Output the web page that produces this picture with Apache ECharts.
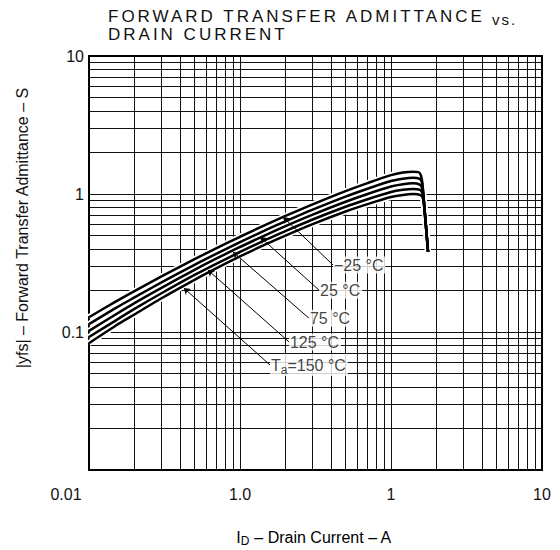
<!DOCTYPE html>
<html><head><meta charset="utf-8">
<script src="https://cdn.jsdelivr.net/npm/echarts@6/dist/echarts.min.js"></script>
<style>html,body{margin:0;padding:0;background:#fff}#c{width:560px;height:550px}</style>
</head><body><div id="c"></div>
<script>
// ---- data ----
const xTickValues = [0.01, 0.1, 1, 10];
const xTickLabels = ['0.01', '1.0', '1', '10'];
const yTickValues = [0.01, 0.1, 1, 10];
const yTickLabels = ['', '0.1', '1', '10'];
const xGridLines = [0.02,0.03,0.04,0.05,0.06,0.07,0.08,0.09,0.1,0.2,0.3,0.4,0.5,0.6,0.7,0.8,0.9,1,2,3,4,5,6,7,8,9];
const yGridLines = [0.02,0.03,0.04,0.05,0.06,0.07,0.08,0.09,0.1,0.2,0.3,0.4,0.5,0.6,0.7,0.8,0.9,1,2,3,4,5,6,7,8,9];

const currentA = [0.01, 0.015, 0.02, 0.03, 0.05, 0.07, 0.1, 0.15, 0.2, 0.3, 0.5, 0.7, 1.0, 1.2, 1.4];
const yfsM25 = [0.128, 0.166, 0.198, 0.252, 0.337, 0.406, 0.490, 0.602, 0.693, 0.838, 1.050, 1.200, 1.370, 1.430, 1.450];
const yfs25  = [0.114, 0.149, 0.178, 0.228, 0.307, 0.370, 0.448, 0.551, 0.634, 0.767, 0.958, 1.092, 1.241, 1.290, 1.311];
const yfs75  = [0.102, 0.134, 0.162, 0.208, 0.282, 0.341, 0.413, 0.508, 0.585, 0.706, 0.879, 1.001, 1.133, 1.177, 1.195];
const yfs125 = [0.092, 0.121, 0.147, 0.190, 0.259, 0.313, 0.380, 0.469, 0.539, 0.651, 0.808, 0.917, 1.034, 1.073, 1.089];
const yfs150 = [0.083, 0.111, 0.134, 0.175, 0.239, 0.290, 0.353, 0.435, 0.500, 0.603, 0.747, 0.845, 0.950, 0.985, 1.000];
// cut-off tails
const tailM25X = [1.52, 1.58, 1.62, 1.76], tailM25Y = [1.44, 1.36, 1.15, 0.38];
const tail25X  = [1.54, 1.60, 1.63, 1.76], tail25Y  = [1.29, 1.22, 1.05, 0.38];
const tail75X  = [1.55, 1.61, 1.64, 1.76], tail75Y  = [1.17, 1.10, 0.95, 0.38];
const tail125X = [1.56, 1.62, 1.65, 1.76], tail125Y = [1.07, 1.00, 0.88, 0.38];
const tail150X = [1.57, 1.63, 1.66, 1.76], tail150Y = [0.98, 0.92, 0.80, 0.38];

const curveLabels = ['\u221225 \u00b0C', '25 \u00b0C', '75 \u00b0C', '125 \u00b0C', 'Ta=150 \u00b0C'];
const leaderFromX = [0.193, 0.136, 0.090, 0.0614, 0.0425];
const leaderFromY = [0.681, 0.488, 0.380, 0.281, 0.208];
const labelAtX = [0.413, 0.334, 0.286, 0.211, 0.158];
const labelAtY = [0.306, 0.201, 0.126, 0.0848, 0.0577];

// ---- build ----
const FONT = "'Liberation Sans', Arial, sans-serif";
function pairs(xs, ys, tx, ty) {
  const p = xs.map((x, i) => [x, ys[i]]);
  if (tx) tx.forEach((x, i) => p.push([x, ty[i]]));
  return p;
}
const curves = [
  pairs(currentA, yfsM25, tailM25X, tailM25Y),
  pairs(currentA, yfs25, tail25X, tail25Y),
  pairs(currentA, yfs75, tail75X, tail75Y),
  pairs(currentA, yfs125, tail125X, tail125Y),
  pairs(currentA, yfs150, tail150X, tail150Y)
];
const gridLineData = [];
xGridLines.forEach(v => gridLineData.push({coords: [[v, 0.01], [v, 10]]}));
yGridLines.forEach(v => gridLineData.push({coords: [[0.01, v], [10, v]]}));

const series = [{
  type: 'lines', coordinateSystem: 'cartesian2d', silent: true, z: 1,
  lineStyle: {color: '#111', width: 1, opacity: 1}, data: gridLineData
}];
curves.forEach((d) => {
  series.push({type: 'line', data: d, showSymbol: false, smooth: 0.25, silent: true, z: 2,
    lineStyle: {color: '#fff', width: 6}});
});
curves.forEach((d, i) => {
  series.push({type: 'line', name: curveLabels[i], data: d, showSymbol: false, smooth: 0.25, silent: true, z: 3,
    lineStyle: {color: '#000', width: 2.5}});
});
series.push({
  type: 'lines', coordinateSystem: 'cartesian2d', silent: true, z: 4,
  symbol: ['arrow', 'none'], symbolSize: 6,
  lineStyle: {color: '#000', width: 1, opacity: 1},
  data: leaderFromX.map((x, i) => ({coords: [[x, leaderFromY[i]], [labelAtX[i], labelAtY[i]]]}))
});
series.push({
  type: 'scatter', symbolSize: 0, silent: true, z: 5,
  data: labelAtX.map((x, i) => ({value: [x, labelAtY[i]], name: curveLabels[i]})),
  label: {
    show: true, position: 'right', distance: 0,
    formatter: p => p.name.startsWith('Ta') ? '{n|T}{s|a}{n|' + p.name.slice(2) + '}' : '{n|' + p.name + '}',
    backgroundColor: '#fff', padding: [1, 2, 0, 1],
    rich: {
      n: {fontSize: 16, fontFamily: FONT, color: '#111'},
      s: {fontSize: 12, fontFamily: FONT, color: '#111', padding: [9, 0, 0, 0]}
    }
  }
});

const chart = echarts.init(document.getElementById('c'), null, {renderer: 'svg'});
chart.setOption({
  animation: false,
  backgroundColor: '#fff',
  grid: {left: 89, top: 56, width: 453, height: 414, show: true, borderColor: '#000', borderWidth: 2, backgroundColor: 'transparent'},
  xAxis: {
    type: 'log', logBase: 10, min: 0.01, max: 10,
    axisLine: {show: false}, axisTick: {show: false}, splitLine: {show: false},
    axisLabel: {
      margin: 16, fontSize: 16, fontFamily: FONT, color: '#111',
      formatter: v => {
        const i = xTickValues.findIndex(t => Math.abs(Math.log10(t) - Math.log10(v)) < 1e-6);
        if (i < 0) return '';
        return i === 0 ? '{p|' + xTickLabels[i] + '}' : xTickLabels[i];
      },
      rich: {p: {fontSize: 16, fontFamily: FONT, color: '#111', padding: [0, 46, 0, 0]}}
    }
  },
  yAxis: {
    type: 'log', logBase: 10, min: 0.01, max: 10,
    axisLine: {show: false}, axisTick: {show: false}, splitLine: {show: false},
    axisLabel: {
      margin: 5, fontSize: 16, fontFamily: FONT, color: '#111',
      formatter: v => {
        const i = yTickValues.findIndex(t => Math.abs(Math.log10(t) - Math.log10(v)) < 1e-6);
        return i < 0 ? '' : yTickLabels[i];
      }
    }
  },
  graphic: [
    {type: 'text', left: 108, top: 8, silent: true,
     style: {text: 'FORWARD TRANSFER ADMITTANCE', font: "17px " + FONT, fill: '#111'}},
    {type: 'text', left: 492, top: 12, silent: true,
     style: {text: 'vs.', font: "15px " + FONT, fill: '#111'}},
    {type: 'text', left: 108, top: 26, silent: true,
     style: {text: 'DRAIN CURRENT', font: "17px " + FONT, fill: '#111'}},
    {type: 'text', x: 22, y: 228, rotation: Math.PI / 2, silent: true,
     style: {text: '|yfs| \u2013 Forward Transfer Admittance \u2013 S', font: "16px " + FONT, fill: '#111',
             textAlign: 'center', textVerticalAlign: 'middle'}},
    {type: 'text', x: 314, y: 537, silent: true,
     style: {text: '{a|I}{s|D}{a| \u2013 Drain Current \u2013 A}', textAlign: 'center', textVerticalAlign: 'middle',
             rich: {a: {fontSize: 16, fontFamily: FONT, color: '#111'},
                    s: {fontSize: 12, fontFamily: FONT, color: '#111', padding: [8, 0, 0, 0]}}}}
  ],
  series: series
});
function spaceTitle() {
  document.querySelectorAll('#c text').forEach(t => {
    const s = t.textContent;
    if (/FORWARD|DRAIN CURRENT/.test(s)) {
      t.style.letterSpacing = '3px';
      t.setAttribute('letter-spacing', '3');
    } else if (s === 'vs.') {
      t.style.letterSpacing = '2px';
      t.setAttribute('letter-spacing', '2');
    }
  });
}
spaceTitle();
chart.on('finished', spaceTitle);
</script>
</body></html>
